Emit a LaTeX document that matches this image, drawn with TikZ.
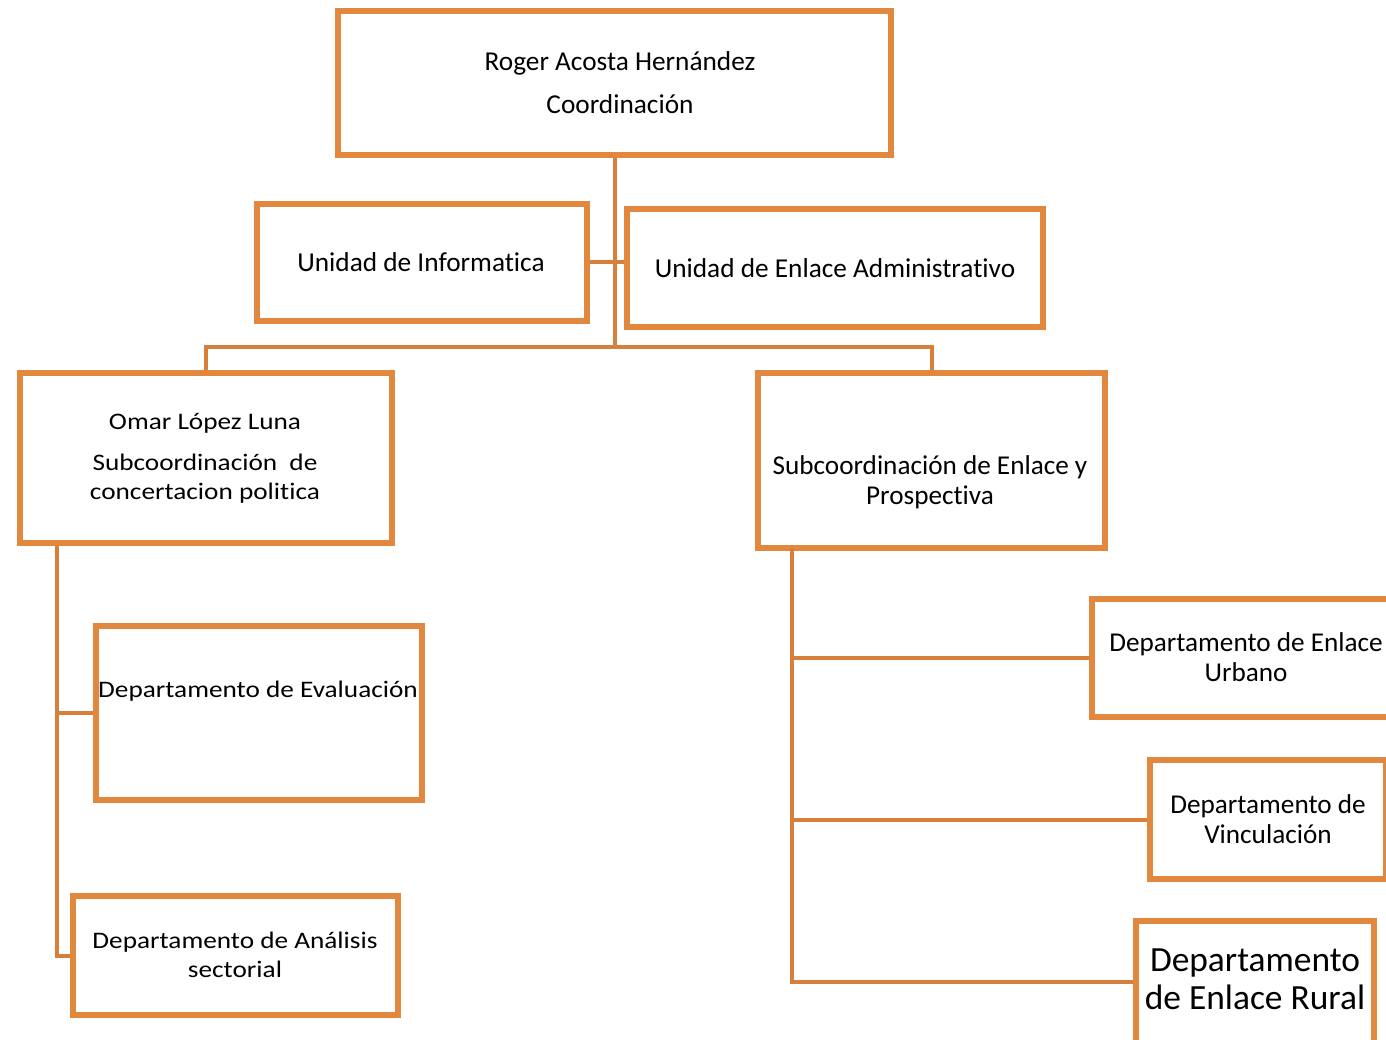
\documentclass[tikz,border=0pt]{standalone}
\usepackage{fontspec}
\setmainfont[Ligatures={NoCommon}]{Carlito}
\newfontfamily\widefont[FakeStretch=1.15,Ligatures={NoCommon}]{Carlito}
\definecolor{boxorange}{RGB}{226,135,62}
\definecolor{lineorange}{RGB}{214,128,60}
\begin{document}
\begin{tikzpicture}[x=1pt,y=-1pt,
  orgbox/.style={draw=boxorange,line width=6pt,minimum width=#1,inner sep=0pt},
  conn/.style={draw=lineorange,line width=4pt},
  txt/.style={align=center,inner sep=0pt,text=black}]
\useasboundingbox (0,0) rectangle (1386,1040);
% boxes
\node[orgbox=553pt,minimum height=144pt] (top) at (614.5,83) {};
\node[orgbox=330pt,minimum height=117pt] (info) at (422,262.5) {};
\node[orgbox=416pt,minimum height=118pt] (adm) at (835,268) {};
\node[orgbox=372pt,minimum height=170pt] (omar) at (206,458) {};
\node[orgbox=347pt,minimum height=175pt] (sub) at (931.5,460.5) {};
\node[orgbox=326pt,minimum height=174pt] (eval) at (259,713) {};
\node[orgbox=325pt,minimum height=119pt] (anal) at (235.5,955.5) {};
\node[orgbox=300pt,minimum height=118pt] (urb) at (1242,658) {};
\node[orgbox=236pt,minimum height=119pt] (vinc) at (1268,819.5) {};
\node[orgbox=238pt,minimum height=122pt] (rural) at (1255,982) {};
% texts
\node[txt,font=\fontsize{27.3}{30}\selectfont] (t1) at (620,63) {Roger Acosta Hernández};
\node[txt,font=\fontsize{27.3}{30}\selectfont] (t2) at (620,104) {Coordinación};
\node[txt,font=\fontsize{27.3}{30}\selectfont] (t3) at (421,262) {Unidad de Informatica};
\node[txt,font=\fontsize{27.3}{30}\selectfont] (t4) at (835,268) {Unidad de Enlace Administrativo};
\node[txt,font=\widefont\fontsize{23.7}{29}\selectfont] (t5) at (205,423) {Omar López Luna};
\node[txt,font=\widefont\fontsize{23.7}{29}\selectfont] (t6) at (205,479) {Subcoordinación\ \ de\\concertacion politica};
\node[txt,font=\fontsize{27.2}{30}\selectfont] (t7) at (930,482) {Subcoordinación de Enlace y\\Prospectiva};
\node[txt,font=\widefont\fontsize{23.7}{29}\selectfont] (t8) at (258,691) {Departamento de Evaluación};
\node[txt,font=\widefont\fontsize{23.7}{29}\selectfont] (t9) at (235,955) {Departamento de Análisis\\sectorial};
\node[txt,font=\fontsize{27.2}{30}\selectfont] (t10) at (1246,657) {Departamento de Enlace\\Urbano};
\node[txt,font=\fontsize{27.2}{30}\selectfont] (t11) at (1268,819) {Departamento de\\Vinculación};
\node[txt,font=\fontsize{35.4}{38}\selectfont] (t12) at (1255,979) {Departamento\\de Enlace Rural};
% connectors
\coordinate (bar) at (614.5,347);
\coordinate (lt) at (57,546);
\coordinate (rt) at (792,548);
\draw[conn] (top.south) -- (bar);
\draw[conn] (info.east) -- (info.east -| adm.west);
\draw[conn] (omar.north) |- (bar) -| (sub.north);
\draw[conn] (lt) |- (anal.west);
\draw[conn] (lt |- eval.west) -- (eval.west);
\draw[conn] (rt) |- (rural.west);
\draw[conn] (rt |- urb.west) -- (urb.west);
\draw[conn] (rt |- vinc.west) -- (vinc.west);
\end{tikzpicture}
\end{document}
